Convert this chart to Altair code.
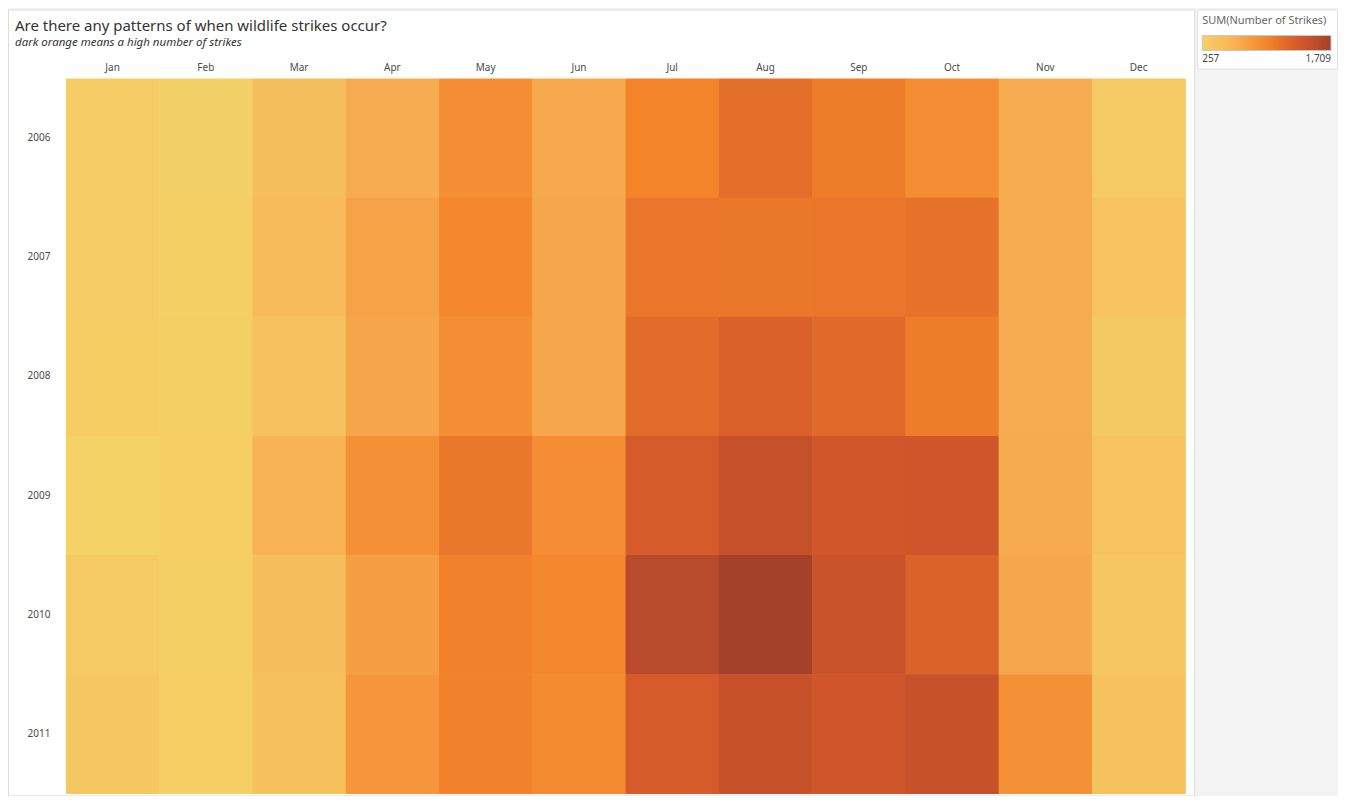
import altair as alt
import pandas as pd

months = ["Jan", "Feb", "Mar", "Apr", "May", "Jun", "Jul", "Aug", "Sep", "Oct", "Nov", "Dec"]
years = ["2006", "2007", "2008", "2009", "2010", "2011"]

strikes_2006 = [312, 265, 470, 664, 896, 693, 983, 1157, 1041, 910, 664, 350]
strikes_2007 = [312, 282, 518, 736, 954, 707, 1099, 1085, 1100, 1128, 664, 431]
strikes_2008 = [315, 295, 446, 722, 896, 707, 1186, 1273, 1200, 1041, 664, 360]
strikes_2009 = [257, 305, 605, 881, 1085, 910, 1331, 1462, 1375, 1390, 678, 425]
strikes_2010 = [350, 295, 489, 780, 1012, 954, 1564, 1709, 1419, 1259, 707, 395]
strikes_2011 = [380, 305, 460, 838, 1012, 925, 1331, 1448, 1390, 1448, 881, 440]

legend_colors = ["#f4d266", "#f8b256", "#f3842a", "#d4592a", "#a4412b"]

rows = [strikes_2006, strikes_2007, strikes_2008, strikes_2009, strikes_2010, strikes_2011]
records = []
for y, vals in zip(years, rows):
    for m, v in zip(months, vals):
        records.append({"Year": y, "Month": m, "Strikes": v})
df = pd.DataFrame(records)

title_text = "Are there any patterns of when wildlife strikes occur?"
subtitle_text = "dark orange means a high number of strikes"
FONT = "Noto Sans"

color_scale = alt.Scale(domain=[257, 1709], range=legend_colors, interpolate="rgb")

x_enc = alt.X("Month:O", sort=months, title=None,
              scale=alt.Scale(range=[58, 1179], paddingInner=0, paddingOuter=0),
              axis=alt.Axis(orient="top", offset=-63, domain=False, ticks=False, tickSize=0,
                            labelPadding=0, labelAngle=0, labelFontSize=10, labelColor="#4a4a4a",
                            labelFont=FONT, grid=False))
y_enc = alt.Y("Year:O", sort=years, title=None,
              scale=alt.Scale(range=[69, 785], paddingInner=0, paddingOuter=0),
              axis=alt.Axis(orient="left", offset=-42, domain=False, ticks=False, tickSize=0,
                            labelPadding=0, labelFontSize=10, labelColor="#4a4a4a",
                            labelFont=FONT, grid=False))

legend = alt.Legend(type="gradient", orient="none", legendX=1191, legendY=0,
                    direction="horizontal",
                    title="SUM(Number of Strikes)",
                    titleFont=FONT, titleFontSize=11,
                    titleFontWeight="normal", titleColor="#666666",
                    titlePadding=10, titleLimit=300,
                    values=[257, 1709],
                    labelExpr="format(datum.value, ',')",
                    labelFont=FONT, labelFontSize=10, labelColor="#444444",
                    labelOffset=3,
                    gradientLength=129, gradientThickness=15,
                    gradientStrokeColor="#c8c8c8", gradientStrokeWidth=1,
                    padding=5, fillColor="white", strokeColor="#e0e0e0")

color_enc = alt.Color("Strikes:Q", scale=color_scale, legend=legend)

# underlay slightly shifted to hide anti-aliasing seams between cells
under = alt.Chart(df).mark_rect(xOffset=0.6, yOffset=0.6).encode(
    x=x_enc, y=y_enc, color=color_enc,
)

heat = alt.Chart(df).mark_rect().encode(
    x=x_enc, y=y_enc, color=color_enc,
)

title_df = pd.DataFrame({"t": [title_text]})
sub_df = pd.DataFrame({"t": [subtitle_text]})

title_layer = alt.Chart(title_df).mark_text(
    align="left", baseline="alphabetic", font=FONT, fontSize=15, color="#333333"
).encode(x=alt.value(7), y=alt.value(21), text="t:N")

sub_layer = alt.Chart(sub_df).mark_text(
    align="left", baseline="alphabetic", font=FONT, fontSize=11.5, fontStyle="italic",
    color="#333333"
).encode(x=alt.value(7), y=alt.value(36), text="t:N")

chart = alt.layer(under, heat, title_layer, sub_layer).properties(
    width=1188, height=787,
    background="#f3f3f3",
    padding={"left": 0, "top": 0, "right": 0, "bottom": 0},
).configure_view(fill="white", stroke="#dcdcdc", strokeWidth=1)

chart.save("out.html", embed_options={"renderer": "svg", "actions": False})
